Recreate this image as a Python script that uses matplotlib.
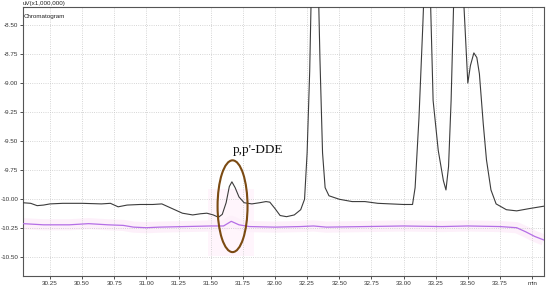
import matplotlib
matplotlib.use('Agg')
import matplotlib.pyplot as plt
from matplotlib.patches import Ellipse, Rectangle

# black trace (sample), uV x 1,000,000
t_black = [30.04, 30.10, 30.15, 30.20, 30.25, 30.35, 30.50, 30.65, 30.72, 30.78,
           30.85, 30.95, 31.05, 31.12, 31.20, 31.28, 31.36, 31.42, 31.47, 31.52,
           31.56, 31.59, 31.62, 31.645, 31.665, 31.69, 31.72, 31.76, 31.82, 31.88,
           31.93, 31.96, 32.00, 32.04, 32.09, 32.15, 32.20, 32.23, 32.25, 32.27,
           32.29, 32.31, 32.33, 32.35, 32.37, 32.39, 32.42, 32.50, 32.60, 32.70,
           32.80, 32.90, 33.00, 33.07, 33.09, 33.12, 33.15, 33.17, 33.19, 33.21,
           33.23, 33.27, 33.31, 33.33, 33.35, 33.37, 33.39, 33.42, 33.45, 33.49,
           33.50, 33.52, 33.547, 33.57, 33.59, 33.62, 33.645, 33.68, 33.72, 33.80,
           33.88, 33.98, 34.09]
v_black = [-10.03, -10.035, -10.055, -10.05, -10.04, -10.035, -10.035, -10.04, -10.035, -10.065,
           -10.05, -10.045, -10.045, -10.04, -10.08, -10.12, -10.135, -10.125, -10.12, -10.135,
           -10.155, -10.13, -10.03, -9.89, -9.85, -9.90, -9.98, -10.03, -10.04, -10.03,
           -10.02, -10.025, -10.08, -10.14, -10.15, -10.135, -10.09, -10.0, -9.6, -8.9,
           -7.8, -7.5, -7.8, -8.8, -9.6, -9.9, -9.97, -10.0, -10.02, -10.02,
           -10.035, -10.04, -10.045, -10.045, -9.9, -9.3, -8.5, -7.9, -7.8, -8.3,
           -9.15, -9.58, -9.84, -9.92, -9.72, -9.15, -8.3, -7.6, -7.9, -8.78,
           -9.00, -8.85, -8.74, -8.78, -8.92, -9.35, -9.66, -9.92, -10.04, -10.09,
           -10.10, -10.08, -10.06]

# pink trace (blank)
t_pink = [30.04, 30.20, 30.40, 30.55, 30.70, 30.82, 30.90, 31.00, 31.10, 31.30,
          31.50, 31.60, 31.66, 31.72, 31.80, 32.00, 32.20, 32.30, 32.40, 32.70,
          33.00, 33.30, 33.50, 33.75, 33.88, 33.95, 34.02, 34.09]
v_pink = [-10.21, -10.22, -10.22, -10.21, -10.22, -10.225, -10.24, -10.245, -10.24, -10.235,
          -10.23, -10.23, -10.19, -10.22, -10.235, -10.24, -10.235, -10.23, -10.24, -10.235,
          -10.23, -10.235, -10.23, -10.235, -10.245, -10.28, -10.32, -10.35]

x_ticks = [30.25, 30.50, 30.75, 31.00, 31.25, 31.50, 31.75, 32.00, 32.25, 32.50,
           32.75, 33.00, 33.25, 33.50, 33.75, 34.00]
x_labels = ['30.25', '30.50', '30.75', '31.00', '31.25', '31.50', '31.75', '32.00',
            '32.25', '32.50', '32.75', '33.00', '33.25', '33.50', '33.75', 'min']
y_ticks = [-10.50, -10.25, -10.00, -9.75, -9.50, -9.25, -9.00, -8.75, -8.50]

plt.rcParams['font.family'] = 'Liberation Sans'

fig = plt.figure(figsize=(5.5, 2.87), dpi=100)
ax = fig.add_axes([0.0418, 0.0394, 0.9467, 0.9362])

ax.add_patch(Rectangle((31.48, -10.49), 0.36, 0.58, color='#fff5fc', lw=0, zorder=0))
ax.plot(t_pink, v_pink, color='#fdf0fa', lw=8, solid_capstyle='butt', zorder=1)
ax.plot(t_pink, v_pink, color='#b46ee6', lw=0.9, zorder=3)
ax.plot(t_black, v_black, color='#3c3c3c', lw=0.8, zorder=4)

ax.add_patch(Ellipse((31.67, -10.06), 0.233, 0.79, fill=False, ec='#7b4a12', lw=1.5, zorder=5))
ax.text(31.87, -9.58, "p,p'-DDE", family='Liberation Serif', fontsize=9.5,
        ha='center', va='center', color='#111111')

ax.set_xlim(30.04, 34.09)
ax.set_ylim(-10.658, -8.345)
ax.set_xticks(x_ticks)
ax.set_xticklabels(x_labels)
ax.set_yticks(y_ticks)
ax.set_yticklabels(['%.2f' % y for y in y_ticks])
ax.tick_params(labelsize=4.5, length=2, width=0.6, pad=1.5, colors='#333333')
ax.grid(True, linestyle=':', color='#c8c8c8', lw=0.6)
for s in ax.spines.values():
    s.set_color('#555555')
    s.set_linewidth(0.8)

ax.text(0.002, 0.975, 'Chromatogram', transform=ax.transAxes, fontsize=4.5,
        ha='left', va='top', color='#222222')
fig.text(0.0418, 0.978, 'uV(x1,000,000)', fontsize=4.5, ha='left', va='bottom', color='#222222')

fig.savefig('out.png', dpi=100)
